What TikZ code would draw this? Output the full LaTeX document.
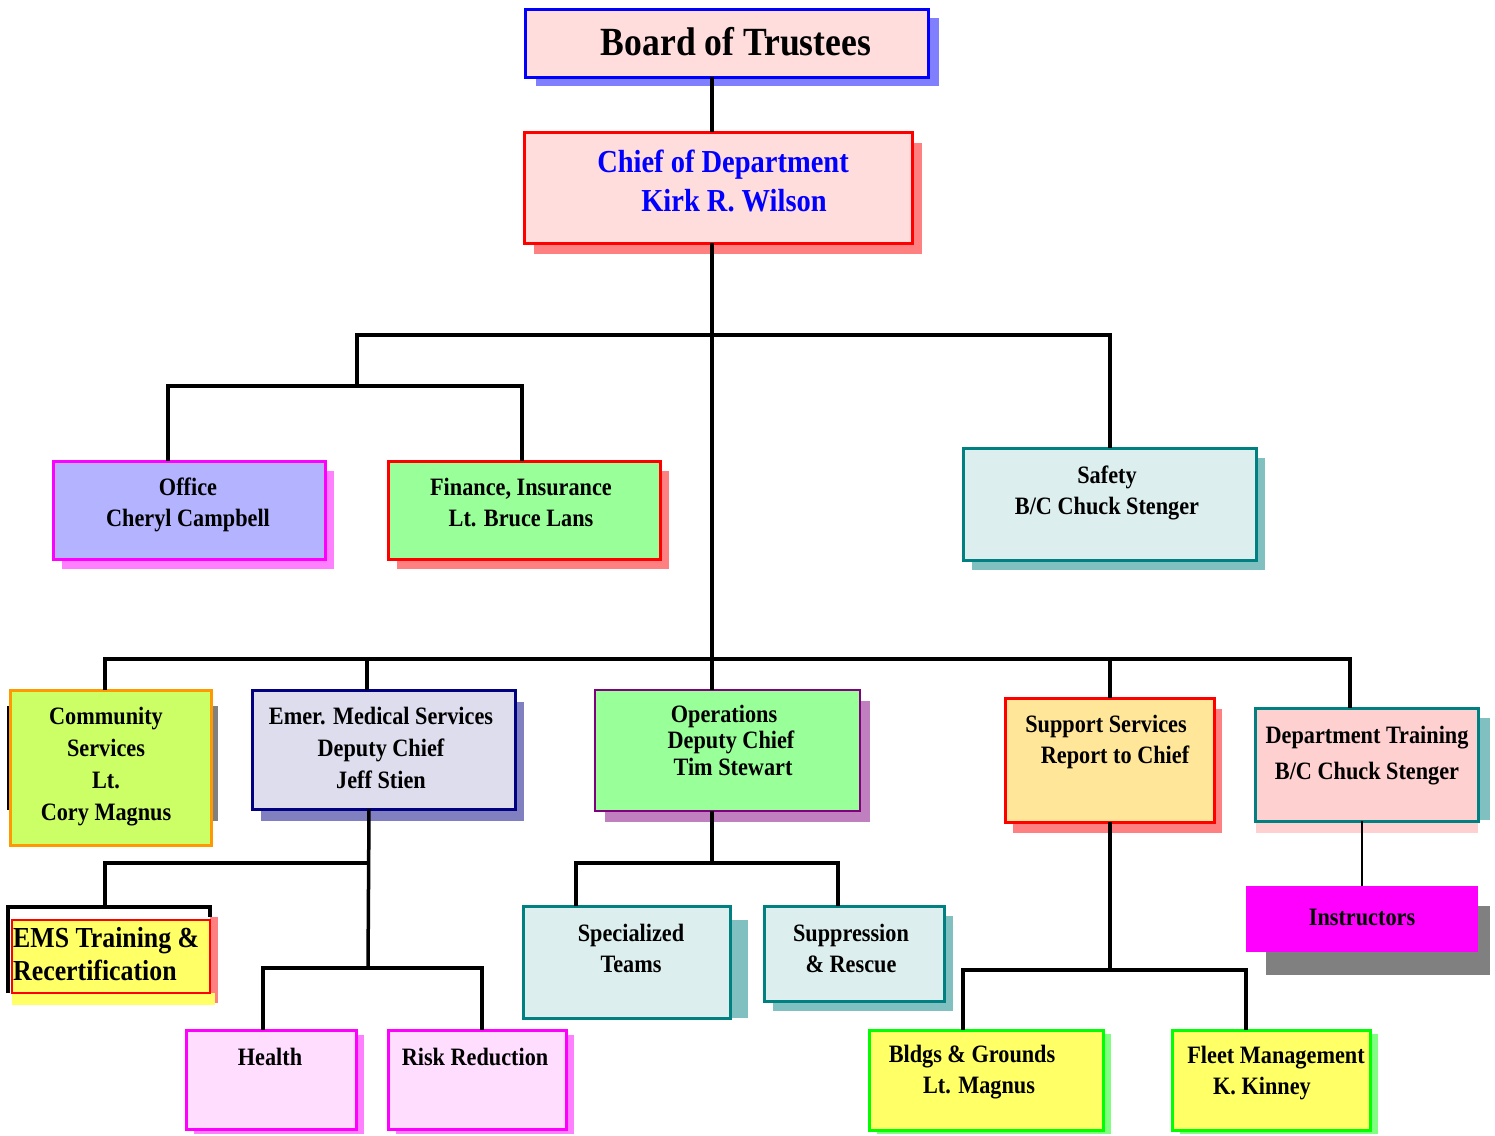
\documentclass[tikz,border=0pt]{standalone}
\usepackage{fontspec}
\newfontfamily\tnr[FakeStretch=0.89]{Liberation Serif}
\usetikzlibrary{shadows}
\definecolor{cpink}{HTML}{FFDDDD}
\definecolor{cblue}{HTML}{0000FF}
\definecolor{cbluesh}{HTML}{8080FF}
\definecolor{cred}{HTML}{FF0000}
\definecolor{credsh}{HTML}{FF8080}
\definecolor{clav}{HTML}{B3B3FF}
\definecolor{cmag}{HTML}{FF00FF}
\definecolor{cmagsh}{HTML}{FF80FF}
\definecolor{cgreen}{HTML}{99FF99}
\definecolor{cteal}{HTML}{008080}
\definecolor{ctealsh}{HTML}{80C0C0}
\definecolor{cice}{HTML}{DDEEEE}
\definecolor{clime}{HTML}{CCFF66}
\definecolor{corange}{HTML}{FF9900}
\definecolor{cgray}{HTML}{808080}
\definecolor{cnavy}{HTML}{000080}
\definecolor{cnavysh}{HTML}{8080C0}
\definecolor{cpale}{HTML}{DDDDEE}
\definecolor{cpurple}{HTML}{800080}
\definecolor{cpurplesh}{HTML}{C080C0}
\definecolor{cpeach}{HTML}{FFE699}
\definecolor{crose}{HTML}{FFD0D0}
\definecolor{cyel}{HTML}{FFFF66}
\definecolor{clgreen}{HTML}{00FF00}
\definecolor{clgreensh}{HTML}{80FF80}
\definecolor{clilac}{HTML}{FFDDFF}
\begin{document}
\begin{tikzpicture}[x=1pt,y=-1pt,
  bx/.style={rectangle, inner sep=0pt, outer sep=0pt, line width=3pt},
  shd/.style={drop shadow={shadow xshift=9pt,shadow yshift=-10pt,fill=#1,opacity=1}},
  tx/.style={font=\tnr\bfseries\fontsize{25}{31}\selectfont, align=center, inner sep=0pt},
  conn/.style={line width=3.5pt, draw=black}]
\useasboundingbox (0,0) rectangle (1495,1135);
\fill[white] (0,0) rectangle (1495,1135);

% manual shadows
\fill[cgray] (211,706) rectangle (218,821);
\fill[ctealsh] (1478,718) rectangle (1490,820);
\fill[crose] (1256,821) rectangle (1478,833);
\fill[credsh] (210,917) rectangle (218,1003);
\fill[cyel] (12,993) rectangle (215,1005);
\fill[ctealsh] (730,920) rectangle (748,1018);
\fill[cgray] (1266,906) rectangle (1490,975);

% frame behind EMS training
\draw[conn] (8,993) |- (210,907) -- (210,917);
\draw[line width=2pt] (8,706) -- (8,810);

% boxes
\node[bx, draw=cblue, fill=cpink, minimum width=403pt, minimum height=68pt,
  drop shadow={shadow xshift=11pt,shadow yshift=-9pt,fill=cbluesh,opacity=1}] (board) at (726.5,43) {};
\node[bx, draw=cred, fill=cpink, minimum width=388pt, minimum height=111pt,
  drop shadow={shadow xshift=10pt,shadow yshift=-11pt,fill=credsh,opacity=1}] (chief) at (718,187.5) {};
\node[bx, draw=cmag, fill=clav, minimum width=272pt, minimum height=98pt, shd=cmagsh] (office) at (189,510) {};
\node[bx, draw=cred, fill=cgreen, minimum width=272pt, minimum height=98pt, shd=credsh] (finance) at (524,510) {};
\node[bx, draw=cteal, fill=cice, minimum width=293pt, minimum height=112pt, shd=ctealsh] (safety) at (1109.5,504) {};
\node[bx, draw=corange, fill=clime, minimum width=201pt, minimum height=155pt] (comm) at (110.5,767.5) {};
\node[bx, draw=cnavy, fill=cpale, minimum width=263pt, minimum height=119pt,
  drop shadow={shadow xshift=9pt,shadow yshift=-12pt,fill=cnavysh,opacity=1}] (ems) at (383.5,749.5) {};
\node[bx, line width=1.5pt, draw=cpurple, fill=cgreen, minimum width=265pt, minimum height=121pt,
  drop shadow={shadow xshift=10pt,shadow yshift=-11pt,fill=cpurplesh,opacity=1}] (ops) at (727.5,750.5) {};
\node[bx, draw=cred, fill=cpeach, minimum width=209pt, minimum height=124pt,
  drop shadow={shadow xshift=8pt,shadow yshift=-11pt,fill=credsh,opacity=1}] (support) at (1109.5,760) {};
\node[bx, draw=cteal, fill=crose, minimum width=223pt, minimum height=113pt] (dtr) at (1366.5,764.5) {};
\node[bx, line width=0pt, fill=cmag, minimum width=232pt, minimum height=66pt] (instr) at (1362,919) {};
\node[bx, line width=2pt, draw=cred, fill=cyel, minimum width=198pt, minimum height=73pt] (emstr) at (111,956.5) {};
\node[bx, draw=cmag, fill=clilac, minimum width=170pt, minimum height=99pt,
  drop shadow={shadow xshift=8pt,shadow yshift=-5pt,fill=cmagsh,opacity=1}] (health) at (271,1079.5) {};
\node[bx, draw=cmag, fill=clilac, minimum width=178pt, minimum height=99pt,
  drop shadow={shadow xshift=8pt,shadow yshift=-5pt,fill=cmagsh,opacity=1}] (risk) at (477,1079.5) {};
\node[bx, draw=cteal, fill=cice, minimum width=207pt, minimum height=112pt] (spec) at (626.5,962) {};
\node[bx, draw=cteal, fill=cice, minimum width=180pt, minimum height=95pt, shd=ctealsh] (supp) at (854,953.5) {};
\node[bx, draw=clgreen, fill=cyel, minimum width=234pt, minimum height=100pt,
  drop shadow={shadow xshift=8pt,shadow yshift=-4pt,fill=clgreensh,opacity=1}] (bldg) at (986,1080) {};
\node[bx, draw=clgreen, fill=cyel, minimum width=198pt, minimum height=100pt,
  drop shadow={shadow xshift=8pt,shadow yshift=-4pt,fill=clgreensh,opacity=1}] (fleet) at (1271,1080) {};

% connectors
\coordinate (spine) at (712,659);
\draw[conn] (board.south -| 712,0) -- (chief.north -| 712,0);
\draw[conn] (chief.south -| 712,0) -- (spine);
\draw[conn] (357,386) |- (1110,335) -- (safety.north -| 1110,0);
\draw[conn] (office.north -| 168,0) |- (522,386) -- (finance.north -| 522,0);
\draw[conn] (comm.north -| 105,0) |- (1350,659) -- (dtr.north -| 1350,0);
\draw[conn] (ems.north -| 367,0) -- (367,659);
\draw[conn] (ops.north -| 712,0) -- (spine);
\draw[conn] (support.north -| 1110,0) -- (1110,659);
\draw[conn] (ems.south -| 369,0) -- (368,968);
\draw[conn] (105,907) |- (369,863);
\draw[conn] (health.north -| 263,0) |- (482,968) -- (risk.north -| 482,0);
\draw[conn] (ops.south -| 712,0) -- (712,863);
\draw[conn] (spec.north -| 576,0) |- (838,863) -- (supp.north -| 838,0);
\draw[conn] (support.south -| 1110,0) -- (1110,970);
\draw[conn] (bldg.north -| 963,0) |- (1246,970) -- (fleet.north -| 1246,0);
\draw[line width=2pt] (dtr.south -| 1362,0) -- (instr.north -| 1362,0);

% texts
\node[tx, font=\tnr\bfseries\fontsize{40}{48}\selectfont] (board-t) at (736,42) {Board of Trustees};
\node[tx, text=cblue, font=\tnr\bfseries\fontsize{32}{39}\selectfont] (chief-t) at (723,181) {Chief of Department\\\hspace*{22pt}Kirk R. Wilson};
\node[tx] (office-t) at (188,505) {Office\\Cheryl Campbell};
\node[tx] (finance-t) at (521,502) {Finance, Insurance\\Lt. Bruce Lans};
\node[tx] (safety-t) at (1107,493) {Safety\\B/C Chuck Stenger};
\node[tx, font=\tnr\bfseries\fontsize{25}{32}\selectfont] (comm-t) at (106,766.5) {Community\\Services\\Lt.\\Cory Magnus};
\node[tx, font=\tnr\bfseries\fontsize{25}{32}\selectfont] (ems-t) at (381,748) {Emer. Medical Services\\Deputy Chief\\Jeff Stien};
\node[tx, font=\tnr\bfseries\fontsize{25}{26.5}\selectfont] (ops-t) at (724,740) {Operations\\\hspace*{14pt}Deputy Chief\\\hspace*{18pt}Tim Stewart};
\node[tx] (support-t) at (1106,742) {Support Services\\\hspace*{18pt}Report to Chief};
\node[tx, font=\tnr\bfseries\fontsize{25}{36}\selectfont] (dtr-t) at (1367,756) {Department Training\\B/C Chuck Stenger};
\node[tx] (instr-t) at (1362,917) {Instructors};
\node[tx, align=left, anchor=west, font=\tnr\bfseries\fontsize{29}{33}\selectfont] (emstr-t) at (13,954) {EMS Training \&\\Recertification};
\node[tx] (health-t) at (270,1057) {Health};
\node[tx] (risk-t) at (475,1057) {Risk Reduction};
\node[tx] (spec-t) at (631,948) {Specialized\\Teams};
\node[tx] (supp-t) at (851,948) {Suppression\\\& Rescue};
\node[tx] (bldg-t) at (972,1072.5) {Bldgs \& Grounds\\\hspace*{14pt}Lt. Magnus};
\node[tx] (fleet-t) at (1276,1073.5) {Fleet Management\\K. Kinney\hspace*{28pt}};
\end{tikzpicture}
\end{document}
